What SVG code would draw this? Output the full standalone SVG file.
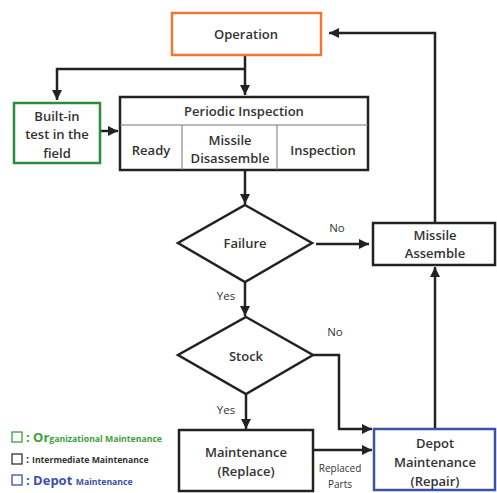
<svg xmlns="http://www.w3.org/2000/svg" width="497" height="493" viewBox="0 0 497 493">
<defs>
<marker id="ah" viewBox="0 0 10 10" refX="10" refY="5" markerWidth="4" markerHeight="4" orient="auto" markerUnits="strokeWidth">
<path d="M0,0 L10,5 L0,10 z" fill="#222"/>
</marker>
<style>
.box{fill:#fff;stroke:#222;stroke-width:2.5}
.t{font-family:"Open Sans","Noto Sans","Liberation Sans",sans-serif;font-size:13px;font-weight:600;fill:#333;text-anchor:middle}
.l{font-family:"Open Sans","Noto Sans","Liberation Sans",sans-serif;font-size:11.5px;fill:#333;text-anchor:middle}
.c{fill:none;stroke:#222;stroke-width:2.5}
.lg{font-family:"Open Sans","Noto Sans","Liberation Sans",sans-serif;font-weight:700}
</style>
</defs>
<rect width="497" height="493" fill="#fff"/>
<g id="connectors">
<path class="c" d="M245,55 V95" marker-end="url(#ah)"/>
<path class="c" d="M245,69 H57 V100" marker-end="url(#ah)"/>
<path class="c" d="M100,131 H118" marker-end="url(#ah)"/>
<path class="c" d="M245,170 V204" marker-end="url(#ah)"/>
<path class="c" d="M245,282 V316" marker-end="url(#ah)"/>
<path class="c" d="M316,244 H369" marker-end="url(#ah)"/>
<path class="c" d="M246,394 V429" marker-end="url(#ah)"/>
<path class="c" d="M313,355 H339 V429 H372" marker-end="url(#ah)"/>
<path class="c" d="M314,450 H372" marker-end="url(#ah)"/>
<path class="c" d="M435,428 V267" marker-end="url(#ah)"/>
<path class="c" d="M435,223 V33 H329" marker-end="url(#ah)"/>
</g>
<g id="operation">
<rect x="172" y="13" width="149" height="42" fill="#fff" stroke="#EE7733" stroke-width="2.5"/>
<text class="t" x="246" y="39">Operation</text>
</g>
<g id="builtin">
<rect x="14" y="103" width="86" height="60" fill="#fff" stroke="#2E8B3E" stroke-width="2.5"/>
<text class="t" x="57" y="121">Built-in</text>
<text class="t" x="57" y="139">test in the</text>
<text class="t" x="57" y="158">field</text>
</g>
<g id="periodic">
<rect class="box" x="120" y="97" width="248" height="73"/>
<line x1="120" y1="125" x2="368" y2="125" stroke="#777" stroke-width="1"/>
<line x1="182" y1="125" x2="182" y2="170" stroke="#777" stroke-width="1"/>
<line x1="277" y1="125" x2="277" y2="170" stroke="#777" stroke-width="1"/>
<text class="t" x="244" y="116">Periodic Inspection</text>
<text class="t" x="151" y="155">Ready</text>
<text class="t" x="230" y="145">Missile</text>
<text class="t" x="230" y="163">Disassemble</text>
<text class="t" x="323" y="155">Inspection</text>
</g>
<g id="failure">
<polygon class="box" points="245,205 312,243 245,282 178,243"/>
<text class="t" x="245" y="248">Failure</text>
</g>
<g id="assemble">
<rect class="box" x="373" y="223" width="122" height="42"/>
<text class="t" x="435" y="240">Missile</text>
<text class="t" x="435" y="258">Assemble</text>
</g>
<g id="stock">
<polygon class="box" points="246,317 313,355 246,394 178,355"/>
<text class="t" x="246" y="361">Stock</text>
</g>
<g id="maintenance">
<rect class="box" x="179" y="430" width="134" height="61"/>
<text class="t" x="246" y="457">Maintenance</text>
<text class="t" x="246" y="476">(Replace)</text>
</g>
<g id="depot">
<rect x="374" y="429" width="121" height="61" fill="#fff" stroke="#3F51A5" stroke-width="2.5"/>
<text class="t" x="435" y="448">Depot</text>
<text class="t" x="435" y="467">Maintenance</text>
<text class="t" x="435" y="486">(Repair)</text>
</g>
<g id="labels">
<text class="l" x="226" y="300">Yes</text>
<text class="l" x="337" y="232">No</text>
<text class="l" x="335" y="336">No</text>
<text class="l" x="226" y="414">Yes</text>
<text class="l" x="340" y="472" style="font-size:10px">Replaced</text>
<text class="l" x="340" y="488" style="font-size:10px">Parts</text>
</g>
<g id="legend">
<rect x="12" y="432" width="10" height="10" fill="none" stroke="#3BA03B" stroke-width="1.3"/>
<text class="lg" x="26" y="442" fill="#3BA03B"><tspan font-size="13">: Or</tspan><tspan font-size="8.7">ganizational Maintenance</tspan></text>
<rect x="12" y="454" width="10" height="10" fill="none" stroke="#333" stroke-width="1.3"/>
<text class="lg" x="26" y="463" fill="#333"><tspan font-size="11">: </tspan><tspan font-size="8.7">Intermediate Maintenance</tspan></text>
<rect x="12" y="475" width="10" height="10" fill="none" stroke="#3D4FA8" stroke-width="1.3"/>
<text class="lg" x="26" y="485" fill="#3D4FA8"><tspan font-size="13">: Depot </tspan><tspan font-size="8.7">Maintenance</tspan></text>
</g>
</svg>
